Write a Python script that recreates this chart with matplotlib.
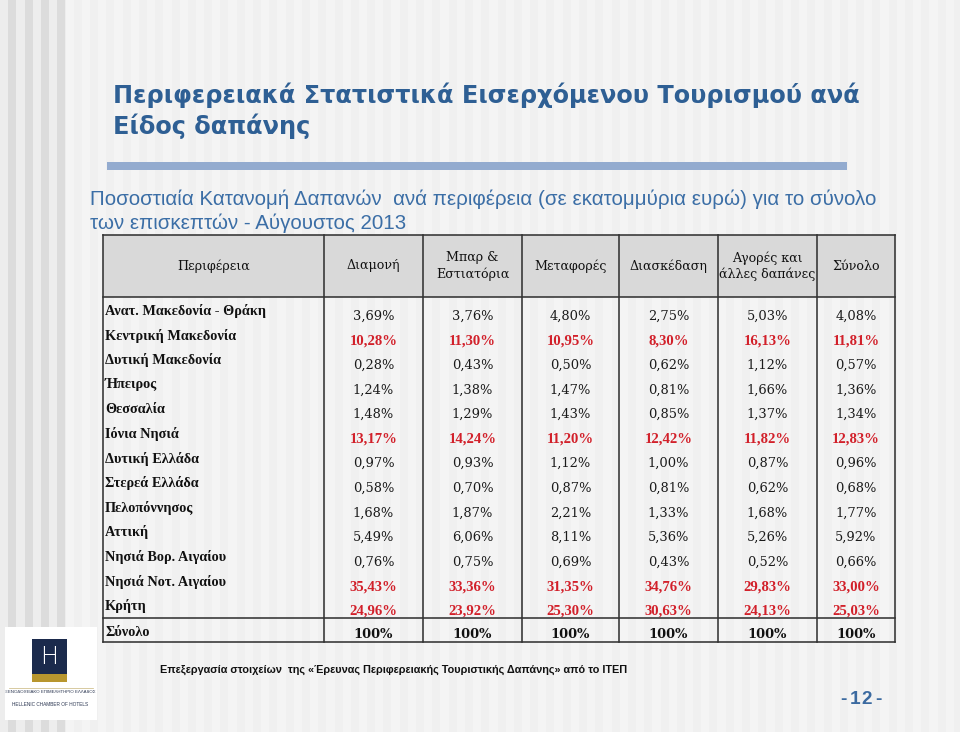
import matplotlib
matplotlib.use('Agg')
import matplotlib.pyplot as plt
import numpy as np
from matplotlib.patches import Rectangle

# ---------------- data ----------------
title_lines = ['Περιφερειακά Στατιστικά Εισερχόμενου Τουρισμού ανά', 'Είδος δαπάνης']
subtitle_lines = ['Ποσοστιαία Κατανομή Δαπανών  ανά περιφέρεια (σε εκατομμύρια ευρώ) για το σύνολο',
                  'των επισκεπτών - Αύγουστος 2013']
footer_text = 'Επεξεργασία στοιχείων  της «Έρευνας Περιφερειακής Τουριστικής Δαπάνης» από το ΙΤΕΠ'
page_number = '-12-'

header_labels = ['Περιφέρεια', 'Διαμονή', 'Μπαρ &\nΕστιατόρια', 'Μεταφορές',
                 'Διασκέδαση', 'Αγορές και\nάλλες δαπάνες', 'Σύνολο']

regions = ['Ανατ. Μακεδονία - Θράκη', 'Κεντρική Μακεδονία', 'Δυτική Μακεδονία', 'Ήπειρος',
           'Θεσσαλία', 'Ιόνια Νησιά', 'Δυτική Ελλάδα', 'Στερεά Ελλάδα', 'Πελοπόννησος',
           'Αττική', 'Νησιά Βορ. Αιγαίου', 'Νησιά Νοτ. Αιγαίου', 'Κρήτη']

accommodation = [3.69, 10.28, 0.28, 1.24, 1.48, 13.17, 0.97, 0.58, 1.68, 5.49, 0.76, 35.43, 24.96]
bars_restaurants = [3.76, 11.30, 0.43, 1.38, 1.29, 14.24, 0.93, 0.70, 1.87, 6.06, 0.75, 33.36, 23.92]
transport = [4.80, 10.95, 0.50, 1.47, 1.43, 11.20, 1.12, 0.87, 2.21, 8.11, 0.69, 31.35, 25.30]
entertainment = [2.75, 8.30, 0.62, 0.81, 0.85, 12.42, 1.00, 0.81, 1.33, 5.36, 0.43, 34.76, 30.63]
shopping_other = [5.03, 16.13, 1.12, 1.66, 1.37, 11.82, 0.87, 0.62, 1.68, 5.26, 0.52, 29.83, 24.13]
total = [4.08, 11.81, 0.57, 1.36, 1.34, 12.83, 0.96, 0.68, 1.77, 5.92, 0.66, 33.00, 25.03]

highlight_regions = ['Κεντρική Μακεδονία', 'Ιόνια Νησιά', 'Νησιά Νοτ. Αιγαίου', 'Κρήτη']
total_row_label = 'Σύνολο'
total_row_values = ['100%', '100%', '100%', '100%', '100%', '100%']

series = [accommodation, bars_restaurants, transport, entertainment, shopping_other, total]

# ---------------- style ----------------
SANS = ['Liberation Sans', 'DejaVu Sans']
TITLE_FONT = ['DejaVu Sans']
SERIF = ['DejaVu Serif']
SERIF_B = ['Liberation Serif', 'DejaVu Serif']
TITLE_C = '#2e5f94'
SUB_C = '#3b6ea6'
RED = '#d2202a'
LINE_C = '#333333'

def px(p):
    return p * 72.0 / 100.0

fig = plt.figure(figsize=(9.6, 7.32), dpi=100)
ax = fig.add_axes([0, 0, 1, 1])
ax.set_xlim(0, 960)
ax.set_ylim(732, 0)
ax.axis('off')

# background with vertical stripes
xs = np.arange(960)
phase = ((xs - 8) % 16.3) < 8
bg = np.where(phase, 0.942, 0.960)
left = xs < 66
bg[left] = np.where(phase[left], 0.865, 0.93)
img = np.repeat(bg[None, :, None], 3, axis=2)
ax.imshow(img, extent=[0, 960, 732, 0], aspect='auto', interpolation='nearest', zorder=0)

# title
ax.text(113, 103, title_lines[0], fontsize=px(24), fontweight='bold', color=TITLE_C,
        family=TITLE_FONT, va='baseline', ha='left')
ax.text(113, 134, title_lines[1], fontsize=px(24), fontweight='bold', color=TITLE_C,
        family=TITLE_FONT, va='baseline', ha='left')
ax.add_patch(Rectangle((107, 162), 740, 8, facecolor='#93abcf', edgecolor='none', zorder=1))

# subtitle
ax.text(90, 205, subtitle_lines[0], fontsize=px(20.5), color=SUB_C, family=SANS,
        va='baseline', ha='left')
ax.text(90, 229, subtitle_lines[1], fontsize=px(20.5), color=SUB_C, family=SANS,
        va='baseline', ha='left')

# table geometry
col_edges = [103, 324, 423, 522, 619, 718, 817, 895]
header_top, header_bottom = 235, 297
first_row_y, row_step = 316, 24.6
total_sep, total_y, table_bottom = 618, 634, 642

ax.add_patch(Rectangle((col_edges[0], header_top), col_edges[-1] - col_edges[0],
                       header_bottom - header_top, facecolor='#d9d9d9', edgecolor='none', zorder=1))

for i, lab in enumerate(header_labels):
    cx = (col_edges[i] + col_edges[i + 1]) / 2
    ax.text(cx, (header_top + header_bottom) / 2, lab, fontsize=px(12.6), family=SERIF,
            ha='center', va='center', color='#111111', linespacing=1.25, zorder=3)

fs_val = px(13)
for r, name in enumerate(regions):
    y = first_row_y + r * row_step
    hl = name in highlight_regions
    ax.text(col_edges[0] + 2, y - 5, name, fontsize=px(14.3), fontweight='bold', family=SERIF_B,
            ha='left', va='center', color='#111111', zorder=3)
    for c, vals in enumerate(series):
        cx = (col_edges[c + 1] + col_edges[c + 2]) / 2
        s = f"{vals[r]:.2f}".replace('.', ',') + '%'
        if hl:
            ax.text(cx, y, s, fontsize=px(14.8), family=SERIF_B, ha='center', va='center',
                    color=RED, fontweight='bold', zorder=3)
        else:
            ax.text(cx, y, s, fontsize=fs_val, family=SERIF, ha='center', va='center',
                    color='#1a1a1a', zorder=3)

ax.text(col_edges[0] + 2, total_y - 2, total_row_label, fontsize=px(14.3), fontweight='bold',
        family=SERIF_B, ha='left', va='center', color='#111111', zorder=3)
for c, s in enumerate(total_row_values):
    cx = (col_edges[c + 1] + col_edges[c + 2]) / 2
    ax.text(cx, total_y, s, fontsize=fs_val, family=SERIF, ha='center', va='center',
            color='#111111', fontweight='bold', zorder=3)

# grid lines
lw = 1.15
for xe in col_edges:
    ax.plot([xe, xe], [header_top, table_bottom], color=LINE_C, lw=lw, zorder=4,
            solid_capstyle='projecting')
for ye in [header_top, header_bottom, total_sep, table_bottom]:
    ax.plot([col_edges[0], col_edges[-1]], [ye, ye], color=LINE_C, lw=lw, zorder=4,
            solid_capstyle='projecting')

# footer
ax.text(160, 670, footer_text, fontsize=px(10.9), fontweight='bold', family=SANS,
        ha='left', va='center', color='#111111')

# page number (letter-spaced)
for k, ch in enumerate(page_number):
    ax.text(843 + k * 11.7, 700, ch, fontsize=px(19), fontweight='bold', family=SANS,
            ha='center', va='center', color='#3b6aa0')

# logo
ax.add_patch(Rectangle((5, 627), 92, 93, facecolor='white', edgecolor='none', zorder=2))
ax.add_patch(Rectangle((32, 639), 35, 35, facecolor='#1b2a4c', edgecolor='none', zorder=3))
ax.add_patch(Rectangle((32, 674), 35, 8, facecolor='#b8962e', edgecolor='none', zorder=3))
ax.text(49.5, 657, 'H', fontsize=px(24), color='white', family=['DejaVu Sans'],
        fontweight='light', ha='center', va='center', zorder=4)
ax.plot([9, 93], [687.5, 687.5], color='#c8b57a', lw=0.5, zorder=3)
ax.text(50, 692, 'ΞΕΝΟΔΟΧΕΙΑΚΟ ΕΠΙΜΕΛΗΤΗΡΙΟ ΕΛΛΑΔΟΣ', fontsize=3.2, color='#2a3550',
        family=SANS, ha='center', va='center', zorder=4)
ax.text(50, 704, 'HELLENIC CHAMBER OF HOTELS', fontsize=3.4, color='#2a3550',
        family=SANS, ha='center', va='center', zorder=4)

fig.savefig('out.png', dpi=100)
